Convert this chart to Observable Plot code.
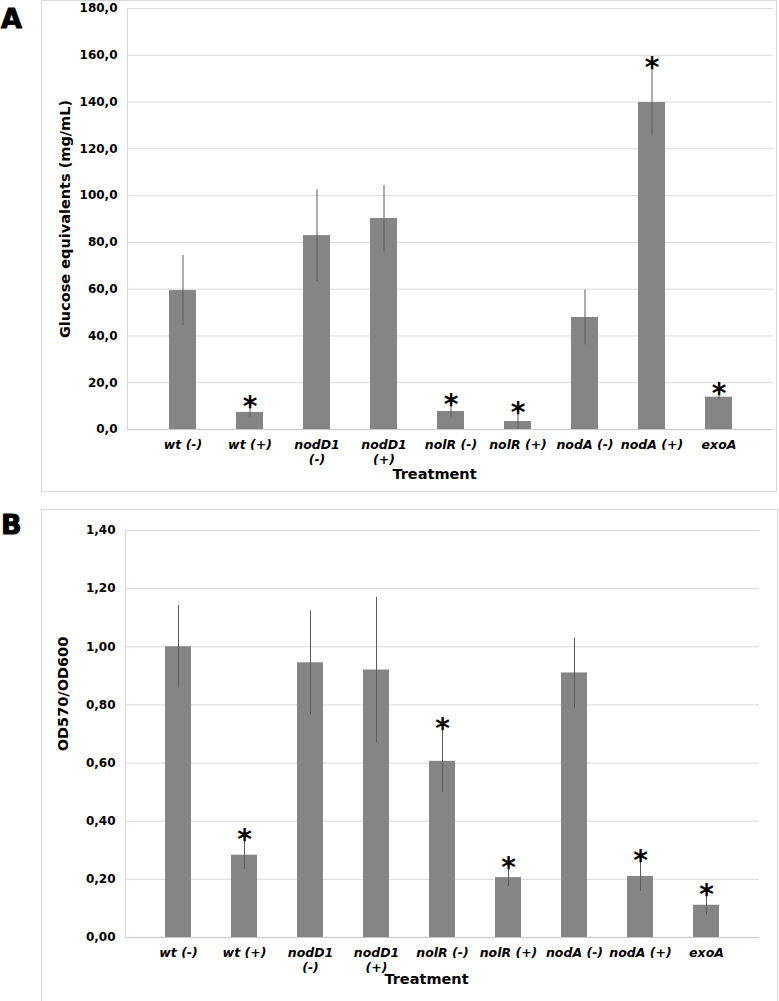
<!DOCTYPE html>
<html>
<head>
<meta charset="utf-8">
<script src="https://cdn.jsdelivr.net/npm/d3@7"></script>
<script src="https://cdn.jsdelivr.net/npm/@observablehq/plot@0.6"></script>
<style>
  html, body { margin: 0; padding: 0; background: #fff; }
  #wrap { position: relative; width: 779px; height: 1001px; overflow: hidden; font-family: "DejaVu Sans", Verdana, sans-serif; }
  .frame { position: absolute; border: 1px solid #d9d9d9; box-sizing: border-box; }
  .panel { position: absolute; left: 0; }
  .tag { position: absolute; left: 1px; font-weight: bold; font-size: 27px; line-height: 1; color: #000; -webkit-text-stroke: 1px #000; }
</style>
</head>
<body>
<div id="wrap">
  <div class="frame" style="left:41px;top:0px;width:736px;height:492px"></div>
  <div class="frame" style="left:41px;top:509px;width:737px;height:493px"></div>
  <div class="tag" style="top:5px">A</div>
  <div class="tag" style="top:511px">B</div>
  <div class="panel" id="pa" style="top:0px"></div>
  <div class="panel" id="pb" style="top:500px"></div>
</div>
<script>
const categories = ["wt (-)", "wt (+)", "nodD1 (-)", "nodD1 (+)", "nolR (-)", "nolR (+)", "nodA (-)", "nodA (+)", "exoA"];
const xTickLabels = ["wt (-)", "wt (+)", "nodD1\n(-)", "nodD1\n(+)", "nolR (-)", "nolR (+)", "nodA (-)", "nodA (+)", "exoA"];

// Panel A: glucose equivalents (mg/mL)
const valuesA = [59.4, 7.3, 82.9, 90.2, 7.7, 3.4, 47.9, 139.8, 13.8];
const errorsA = [15.0, 2.0, 19.6, 14.2, 2.4, 3.4, 11.7, 14.3, 1.1];
const signifA = [false, true, false, false, true, true, false, true, true];
const yTicksA = [0, 20, 40, 60, 80, 100, 120, 140, 160, 180];

// Panel B: OD570/OD600
const valuesB = [1.00, 0.283, 0.945, 0.92, 0.606, 0.206, 0.91, 0.21, 0.111];
const errorsB = [0.142, 0.049, 0.178, 0.25, 0.108, 0.031, 0.12, 0.051, 0.033];
const signifB = [false, true, false, false, true, true, false, true, true];
const yTicksB = [0, 0.2, 0.4, 0.6, 0.8, 1.0, 1.2, 1.4];

const labelOf = new Map(categories.map((c, i) => [c, xTickLabels[i]]));

function panel({values, errors, signif, yTicks, yMax, digits, yTitle, titleDy, height, mt, mb, ml, mr, trDx, trDy}) {
  const rows = categories.map((c, i) => ({cat: c, v: values[i], e: errors[i], s: signif[i]}));
  return Plot.plot({
    width: 779,
    height,
    marginTop: mt,
    marginBottom: mb,
    marginLeft: ml,
    marginRight: mr,
    style: {fontFamily: "DejaVu Sans, Verdana, sans-serif", fontSize: "12px", fontWeight: "bold", color: "#000", background: "transparent"},
    x: {domain: categories, padding: 0.6, align: 0.5},
    y: {domain: [0, yMax]},
    marks: [
      Plot.gridY(yTicks, {stroke: "#d9d9d9", strokeOpacity: 1}),
      Plot.frame({anchor: "left", stroke: "#d9d9d9"}),
      Plot.ruleY([0], {stroke: "#c8c8c8"}),
      Plot.barY(rows, {x: "cat", y: "v", fill: "#858585"}),
      Plot.ruleX(rows, {x: "cat", y1: d => d.v - d.e, y2: d => d.v + d.e, stroke: "#5a5a5a", strokeWidth: 1}),
      Plot.text(rows.filter(d => d.s), {x: "cat", y: d => d.v + d.e, text: () => "*", fontSize: 28, fontWeight: "bold", dy: -1, fill: "#000"}),
      Plot.axisY({ticks: yTicks, tickSize: 0, tickPadding: 10, tickFormat: d => d.toFixed(digits).replace(".", ","), label: null}),
      Plot.axisX({tickSize: 0, tickPadding: 8, tickFormat: d => labelOf.get(d), fontStyle: "italic", fontSize: 12.5, lineHeight: 1.25, label: null}),
      Plot.text([yTitle], {frameAnchor: "left", textAnchor: "middle", rotate: -90, dx: -62, dy: titleDy, fontSize: 14.5, fontWeight: "bold", fill: "#000"}),
      Plot.text(["Treatment"], {frameAnchor: "bottom", textAnchor: "middle", dx: trDx, dy: trDy, fontSize: 14.5, fontWeight: "bold", fill: "#000"})
    ]
  });
}

document.getElementById("pa").append(panel({
  values: valuesA, errors: errorsA, signif: signifA, yTicks: yTicksA, yMax: 180, digits: 1,
  yTitle: "Glucose equivalents (mg/mL)", titleDy: 0, height: 495, mt: 8, mb: 66, ml: 127, mr: 6, trDx: -16, trDy: 49
}));
document.getElementById("pb").append(panel({
  values: valuesB, errors: errorsB, signif: signifB, yTicks: yTicksB, yMax: 1.4, digits: 2,
  yTitle: "OD570/OD600", titleDy: -40, height: 501, mt: 30, mb: 64, ml: 125, mr: 20, trDx: -16, trDy: 46
}));
</script>
</body>
</html>
